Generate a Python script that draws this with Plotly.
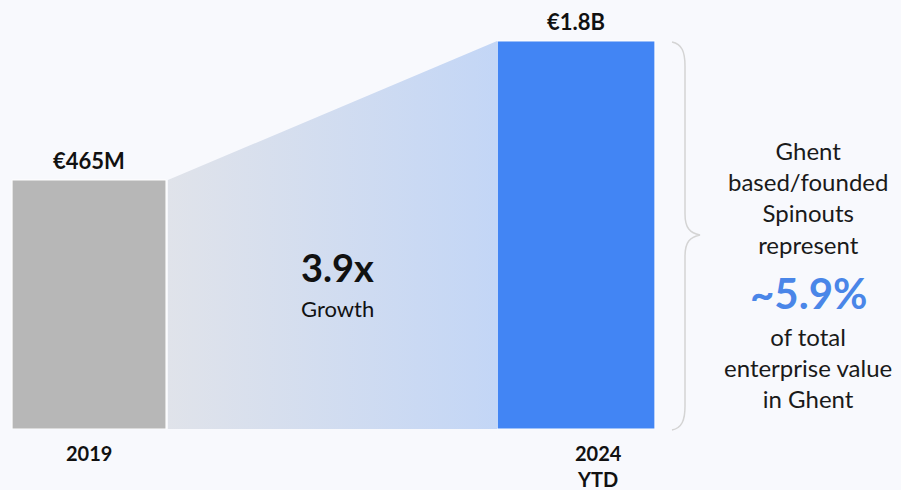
import math

import plotly.graph_objects as go

# data
years = ["2019", "2024<br>YTD"]
values = [465, 1800]  # EUR millions
value_labels = ["€465M", "€1.8B"]
bar_colors = ["#b7b7b7", "#4285f4"]
growth_label = "3.9x"
share_label = "~5.9%"
side_text_top = "Ghent<br>based/founded<br>Spinouts<br>represent"
side_text_bottom = "of total<br>enterprise value<br>in Ghent"

FONT = "Lato, sans-serif"
W, H = 901, 490
M_T, M_B = 20, 61
Y_FLOOR = 10 ** 1.6145  # bars start here on the log axis
Y_TOP = 3.344
positions = [0, 1]
widths = [0.316, 0.324]
X_MIN = -0.1828
X_MAX = X_MIN + W / 487


def px_to_paper(px, py):
    return px / W, (H - M_B - py) / (H - M_T - M_B)


fig = go.Figure()

# gradient wedge between the bars
x0 = positions[0] + widths[0] / 2 + 0.004
x1 = positions[1] - widths[1] / 2
fig.add_trace(
    go.Scatter(
        x=[x0, x0, x1, x1, x0],
        y=[Y_FLOOR, values[0], values[1], Y_FLOOR, Y_FLOOR],
        mode="lines",
        line_width=0,
        fill="toself",
        fillgradient=dict(
            type="horizontal",
            colorscale=[[0, "#e0e3ea"], [1, "#c3d6f6"]],
        ),
        hoverinfo="skip",
        showlegend=False,
    )
)

fig.add_trace(
    go.Bar(
        x=positions,
        y=[v - Y_FLOOR for v in values],
        base=Y_FLOOR,
        width=widths,
        marker=dict(color=bar_colors, line=dict(color="white", width=1)),
        hoverinfo="skip",
        showlegend=False,
    )
)

annotations = []
# log axis: annotation y is given in log10 units
for x, v, lab in zip(positions, values, value_labels):
    annotations.append(
        dict(x=x, y=math.log10(v), xref="x", yref="y", text=f"<b>{lab}</b>",
             showarrow=False, xanchor="center", yanchor="bottom", yshift=4,
             font=dict(size=22, color="#111111"))
    )
annotations.append(
    dict(x=positions[0], y=0, xref="x", yref="paper", text=f"<b>{years[0]}</b>",
         showarrow=False, xanchor="center", yanchor="top", yshift=-10,
         font=dict(size=20, color="#111111"))
)
annotations.append(
    dict(x=positions[1], y=0, xref="x", yref="paper", text=f"<b>{years[1]}</b>",
         showarrow=False, xanchor="center", yanchor="top", yshift=-10,
         xshift=22, font=dict(size=20, color="#111111"))
)

# growth text in the wedge
gx = (337 - 89) / 487
for py, txt, size in [(267, f"<b>{growth_label}</b>", 38), (308, "Growth", 22)]:
    annotations.append(
        dict(x=gx, y=px_to_paper(0, py)[1], xref="x", yref="paper", text=txt,
             showarrow=False, xanchor="center", yanchor="middle",
             font=dict(size=size, color="#111111"))
    )

# side note
sx = px_to_paper(808, 0)[0]
annotations += [
    dict(x=sx, y=px_to_paper(0, 197.5)[1], xref="paper", yref="paper",
         text=side_text_top, showarrow=False, xanchor="center",
         yanchor="middle", font=dict(size=24, color="#1a1a1a")),
    dict(x=sx, y=px_to_paper(0, 293)[1], xref="paper", yref="paper",
         text=f"<b>{share_label}</b>", showarrow=False, xanchor="center",
         yanchor="middle", font=dict(size=42, color="#4a86e8")),
    dict(x=sx, y=px_to_paper(0, 367)[1], xref="paper", yref="paper",
         text=side_text_bottom, showarrow=False, xanchor="center",
         yanchor="middle", font=dict(size=24, color="#1a1a1a")),
]

# curly brace
brace_pts = [
    ("M", [(672, 42)]),
    ("C", [(682, 44), (685, 52), (685, 66)]),
    ("L", [(685, 214)]),
    ("C", [(685, 228), (690, 233), (700, 235)]),
    ("C", [(690, 237), (685, 242), (685, 256)]),
    ("L", [(685, 406)]),
    ("C", [(685, 420), (682, 428), (672, 430)]),
]
path = ""
for cmd, pts in brace_pts:
    coords = " ".join("%.5f,%.5f" % px_to_paper(px, py) for px, py in pts)
    path += f"{cmd} {coords} "

fig.update_layout(
    width=W,
    height=H,
    margin=dict(l=0, r=0, t=M_T, b=M_B),
    paper_bgcolor="#f8f9fd",
    plot_bgcolor="#f8f9fd",
    font=dict(family=FONT),
    annotations=annotations,
    shapes=[dict(type="path", path=path, xref="paper", yref="paper",
                 line=dict(color="#d4d4d4", width=1.5))],
    showlegend=False,
)
fig.update_xaxes(range=[X_MIN, X_MAX], visible=False, fixedrange=True)
fig.update_yaxes(type="log", range=[1.6145, Y_TOP], visible=False,
                 fixedrange=True)

# drop the page's default body margin so the figure fills the window
fig.write_html(
    "out.html",
    config={"displayModeBar": False},
    post_script="document.body.style.margin='0';"
    "document.body.style.overflow='hidden';",
)
